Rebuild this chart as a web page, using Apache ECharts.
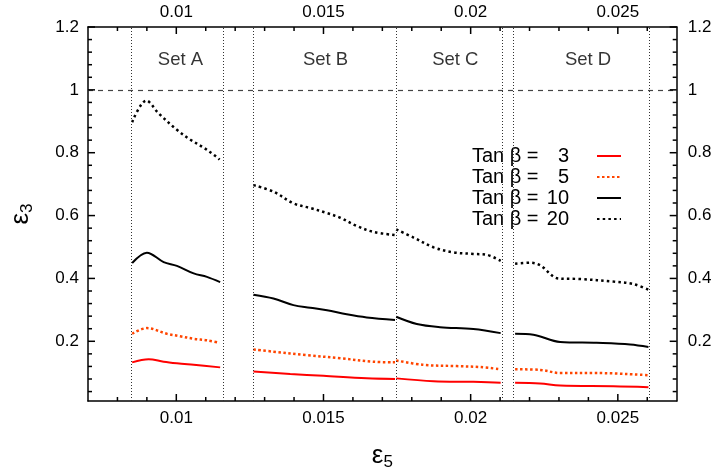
<!DOCTYPE html>
<html>
<head>
<meta charset="utf-8">
<script src="https://cdn.jsdelivr.net/npm/echarts@6/dist/echarts.min.js"></script>
<style>html,body{margin:0;padding:0;background:#fff}#c{width:720px;height:476px}</style>
</head>
<body>
<div id="c"></div>
<script>
// ---- tick labels / tick positions ----
const tickMajorX = [0.01, 0.015, 0.02, 0.025];
const tickMinorX = [0.008, 0.009, 0.011, 0.012, 0.013, 0.014, 0.016, 0.017, 0.018, 0.019, 0.021, 0.022, 0.023, 0.024, 0.026];
const tickMajorY = [0.2, 0.4, 0.6, 0.8, 1, 1.2];
const tickMinorY = [0.04, 0.08, 0.12, 0.16, 0.24, 0.28, 0.32, 0.36, 0.44, 0.48, 0.52, 0.56, 0.64, 0.68, 0.72, 0.76, 0.84, 0.88, 0.92, 0.96, 1.04, 1.08, 1.12, 1.16];

// ---- set regions ----
const setBounds = [0.00846, 0.0116, 0.0126, 0.01747, 0.02106, 0.02145, 0.02607];
const setNames = ['Set A', 'Set B', 'Set C', 'Set D'];
const setLabelX = [0.01014, 0.01507, 0.01948, 0.02399];
const setLabelY = 1.095;
const refLineY = 1;

// ---- series: tan beta = 3 ----
const tan3_A = [[0.0085,0.133],[0.00906,0.143],[0.00957,0.135],[0.01002,0.130],[0.01059,0.125],[0.01149,0.117]];
const tan3_B = [[0.01262,0.104],[0.01387,0.096],[0.01500,0.090],[0.01647,0.082],[0.01743,0.080]];
const tan3_C = [[0.01747,0.082],[0.01874,0.073],[0.02009,0.071],[0.02102,0.068]];
const tan3_D = [[0.02151,0.068],[0.02236,0.066],[0.02304,0.059],[0.02485,0.057],[0.02604,0.054]];
// ---- tan beta = 5 ----
const tan5_A = [[0.0085,0.224],[0.00900,0.242],[0.00968,0.224],[0.01013,0.216],[0.01059,0.208],[0.01104,0.203],[0.01147,0.195]];
const tan5_B = [[0.01262,0.174],[0.01330,0.167],[0.01444,0.156],[0.01557,0.146],[0.01670,0.135],[0.01743,0.133]];
const tan5_C = [[0.01747,0.139],[0.01840,0.125],[0.01953,0.121],[0.02032,0.118],[0.02102,0.111]];
const tan5_D = [[0.02151,0.111],[0.02236,0.109],[0.02304,0.099],[0.02428,0.099],[0.02604,0.092]];
// ---- tan beta = 10 ----
const tan10_A = [[0.0085,0.449],[0.00900,0.482],[0.00957,0.452],[0.01002,0.440],[0.01059,0.416],[0.01104,0.405],[0.01149,0.388]];
const tan10_B = [[0.01262,0.348],[0.01330,0.336],[0.01398,0.315],[0.01455,0.307],[0.01512,0.299],[0.01579,0.286],[0.01647,0.276],[0.01743,0.268]];
const tan10_C = [[0.01747,0.278],[0.01817,0.255],[0.01896,0.245],[0.02009,0.239],[0.02102,0.226]];
const tan10_D = [[0.02151,0.224],[0.02213,0.221],[0.02304,0.198],[0.02428,0.195],[0.02542,0.190],[0.02604,0.182]];
// ---- tan beta = 20 ----
const tan20_A = [[0.0085,0.897],[0.00898,0.966],[0.00940,0.925],[0.01002,0.873],[0.01047,0.842],[0.01093,0.816],[0.01132,0.790],[0.01147,0.778]];
const tan20_B = [[0.01262,0.697],[0.01330,0.676],[0.01398,0.639],[0.01455,0.624],[0.01512,0.608],[0.01557,0.593],[0.01613,0.567],[0.01670,0.548],[0.01743,0.538]];
const tan20_C = [[0.01747,0.556],[0.01806,0.530],[0.01874,0.499],[0.01941,0.483],[0.02009,0.478],[0.02055,0.475],[0.02102,0.456]];
const tan20_D = [[0.02151,0.447],[0.02202,0.450],[0.02236,0.442],[0.02298,0.400],[0.02372,0.398],[0.02485,0.390],[0.02553,0.382],[0.02604,0.364]];

const legendNums = ['3', '5', '10', '20'];

function joinSets(sets) {
  const out = [];
  sets.forEach((s, i) => {
    if (i > 0) out.push([s[0][0], '-']);
    s.forEach(p => out.push(p));
  });
  return out;
}

const FONT = 'Liberation Sans, Arial, sans-serif';
const X_MIN = 0.007, X_MAX = 0.027, Y_MIN = 0.01, Y_MAX = 1.2;
const MAJOR_LEN = 7, MINOR_LEN = 4;
const TICK_COLOR = '#000';
const TICK_W = 1.5;
const chart = echarts.init(document.getElementById('c'));

const fmtX = v => String(+(+v).toFixed(3));
const fmtY = v => String(+(+v).toFixed(2));
const lblStyle = {color: '#000', fontSize: 17, fontFamily: FONT};
function axLine() { return {show: true, onZero: false, lineStyle: {color: '#000', width: 1.5}}; }

const names = legendNums.map(n => 'Tan β = ' + n);

// tick data built from the tick arrays: [x, y, length]
const xTickData = tickMajorX.map(v => [v, Y_MIN, MAJOR_LEN]).concat(tickMinorX.map(v => [v, Y_MIN, MINOR_LEN]));
const yTickData = tickMajorY.map(v => [X_MIN, v, MAJOR_LEN]).concat(tickMinorY.map(v => [X_MIN, v, MINOR_LEN]));

const option = {
  animation: false,
  backgroundColor: '#fff',
  grid: {left: 87.7, right: 43.3, top: 27, bottom: 67.5},
  legend: {
    data: names,
    orient: 'vertical',
    right: 93,
    top: 141,
    align: 'right',
    itemWidth: 24,
    itemHeight: 14,
    itemGap: 1,
    itemStyle: {opacity: 0},
    formatter: function (name) {
      const i = names.indexOf(name);
      return '{a|Tan β = }{n|' + legendNums[i] + '}{g|}';
    },
    textStyle: {
      color: '#000', fontFamily: FONT, fontSize: 20,
      rich: {
        a: {fontSize: 20, fontFamily: FONT, color: '#000', width: 75},
        n: {fontSize: 20, fontFamily: FONT, color: '#000', width: 25, align: 'right'},
        g: {width: 23}
      }
    }
  },
  xAxis: [
    {
      type: 'value', min: X_MIN, max: X_MAX, position: 'bottom', splitLine: {show: false},
      axisLine: axLine(),
      axisTick: {show: false},
      axisLabel: Object.assign({customValues: tickMajorX, formatter: fmtX, margin: 9}, lblStyle),
      name: '{e|ε}{s|5}',
      nameLocation: 'middle',
      nameGap: 40,
      nameTextStyle: {rich: {
        e: {fontSize: 26, fontFamily: FONT, color: '#000', lineHeight: 30},
        s: {fontSize: 17, fontFamily: FONT, color: '#000', verticalAlign: 'bottom', lineHeight: 17}
      }}
    },
    {
      type: 'value', min: X_MIN, max: X_MAX, position: 'top', splitLine: {show: false},
      axisLine: axLine(),
      axisTick: {show: false},
      axisLabel: Object.assign({customValues: tickMajorX, formatter: fmtX, margin: 6}, lblStyle)
    }
  ],
  yAxis: [
    {
      type: 'value', min: Y_MIN, max: Y_MAX, position: 'left', splitLine: {show: false},
      axisLine: axLine(),
      axisTick: {show: false},
      axisLabel: Object.assign({customValues: tickMajorY, formatter: fmtY, margin: 9}, lblStyle),
      name: '{e|ε}{s|3}',
      nameLocation: 'middle',
      nameRotate: 90,
      nameGap: 52,
      nameTextStyle: {rich: {
        e: {fontSize: 26, fontFamily: FONT, color: '#000', lineHeight: 30},
        s: {fontSize: 17, fontFamily: FONT, color: '#000', verticalAlign: 'bottom', lineHeight: 17}
      }}
    },
    {
      type: 'value', min: Y_MIN, max: Y_MAX, position: 'right', splitLine: {show: false},
      axisLine: axLine(),
      axisTick: {show: false},
      axisLabel: Object.assign({customValues: tickMajorY, formatter: fmtY, margin: 11}, lblStyle)
    }
  ],
  series: [
    {
      name: 'sets', type: 'scatter', xAxisIndex: 0, yAxisIndex: 0,
      symbolSize: 1, itemStyle: {color: 'rgba(0,0,0,0)'},
      silent: true,
      data: setNames.map((n, i) => ({value: [setLabelX[i], setLabelY], name: n})),
      label: {show: true, position: 'inside', formatter: p => p.name, color: '#000', fontSize: 18.5, fontFamily: FONT},
      markLine: {
        silent: true, symbol: 'none', animation: false, precision: 6,
        label: {show: false},
        data: setBounds.map(v => ({xAxis: v, lineStyle: {color: '#333', width: 1, type: [1, 2]}}))
          .concat([{yAxis: refLineY, lineStyle: {color: '#444', width: 1.2, type: [5, 5]}}])
      }
    },
    {
      type: 'custom', xAxisIndex: 0, yAxisIndex: 0, silent: true, clip: false, z: 10,
      data: xTickData,
      renderItem: function (params, api) {
        const v = api.value(0), len = api.value(2);
        const b = api.coord([v, Y_MIN]);
        const t = api.coord([v, Y_MAX]);
        return {type: 'group', children: [
          {type: 'rect', shape: {x: b[0] - TICK_W / 2, y: b[1] - len, width: TICK_W, height: len}, style: {fill: TICK_COLOR}},
          {type: 'rect', shape: {x: t[0] - TICK_W / 2, y: t[1], width: TICK_W, height: len}, style: {fill: TICK_COLOR}}
        ]};
      }
    },
    {
      type: 'custom', xAxisIndex: 0, yAxisIndex: 0, silent: true, clip: false, z: 10,
      data: yTickData,
      renderItem: function (params, api) {
        const v = api.value(1), len = api.value(2);
        const l = api.coord([X_MIN, v]);
        const r = api.coord([X_MAX, v]);
        return {type: 'group', children: [
          {type: 'rect', shape: {x: l[0], y: l[1] - TICK_W / 2, width: len, height: TICK_W}, style: {fill: TICK_COLOR}},
          {type: 'rect', shape: {x: r[0] - len, y: r[1] - TICK_W / 2, width: len, height: TICK_W}, style: {fill: TICK_COLOR}}
        ]};
      }
    },
    {
      name: names[0], type: 'line', xAxisIndex: 0, yAxisIndex: 0, symbol: 'none', smooth: 0.35,
      connectNulls: false,
      color: '#ff0000',
      lineStyle: {color: '#ff0000', width: 2},
      data: joinSets([tan3_A, tan3_B, tan3_C, tan3_D])
    },
    {
      name: names[1], type: 'line', xAxisIndex: 0, yAxisIndex: 0, symbol: 'none', smooth: 0.35,
      connectNulls: false,
      color: '#ff4500',
      lineStyle: {color: '#ff4500', width: 2.5, type: [2.5, 2.5]},
      data: joinSets([tan5_A, tan5_B, tan5_C, tan5_D])
    },
    {
      name: names[2], type: 'line', xAxisIndex: 0, yAxisIndex: 0, symbol: 'none', smooth: 0.35,
      connectNulls: false,
      color: '#000',
      lineStyle: {color: '#000', width: 2},
      data: joinSets([tan10_A, tan10_B, tan10_C, tan10_D])
    },
    {
      name: names[3], type: 'line', xAxisIndex: 0, yAxisIndex: 0, symbol: 'none', smooth: 0.35,
      connectNulls: false,
      color: '#000',
      lineStyle: {color: '#000', width: 2.5, type: [2.5, 3.2]},
      data: joinSets([tan20_A, tan20_B, tan20_C, tan20_D])
    }
  ]
};
chart.setOption(option);
</script>
</body>
</html>
